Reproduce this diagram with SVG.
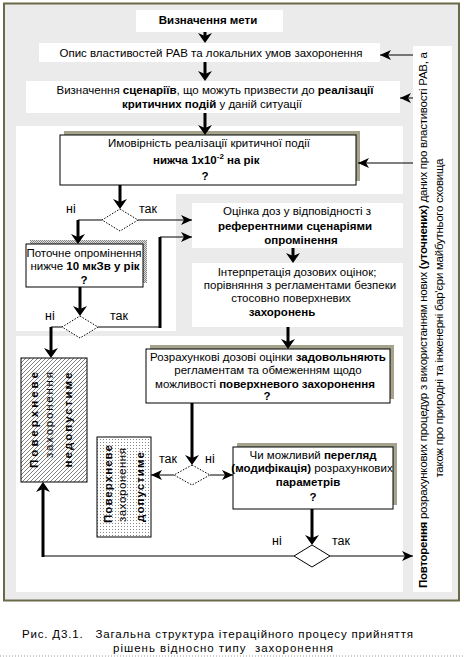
<svg xmlns="http://www.w3.org/2000/svg" width="464" height="657" viewBox="0 0 464 657">
<style>
.t{font-family:"Liberation Sans",Arial,sans-serif;font-size:11.5px;fill:#000}
.c{text-anchor:middle}
.b{font-weight:bold}
.lb{font-family:"Liberation Sans",Arial,sans-serif;font-size:12.5px;fill:#000}
.box{fill:#fff;stroke:#000;stroke-width:1}
.wh{fill:#fff}
.sh{fill:#a5a38b}
.thick{stroke:#000;stroke-width:3;fill:none}
.thin{stroke:#000;stroke-width:1;fill:none}
.dia{fill:#fff;stroke:#000;stroke-width:1;stroke-dasharray:1.5 1.5}
.dias{fill:#fff;stroke:#000;stroke-width:1}
</style>
<defs>
<marker id="ak" markerUnits="userSpaceOnUse" viewBox="0 -8 10 16" markerWidth="10" markerHeight="16" refX="3" refY="0" orient="auto"><path d="M0,-7 L10,0 L0,7 L3,0z" fill="#000"/></marker>
<marker id="as" markerUnits="userSpaceOnUse" viewBox="0 -5 11 10" markerWidth="11" markerHeight="10" refX="11" refY="0" orient="auto"><path d="M0,-5 L11,0 L0,5 L3,0z" fill="#000"/></marker>
<pattern id="hatch" width="4" height="4" patternUnits="userSpaceOnUse"><rect width="4" height="4" fill="#fff"/><path d="M-1,1 l2,-2 M0,4 l4,-4 M3,5 l2,-2" stroke="#808080" stroke-width="1"/></pattern>
<pattern id="dots" width="3" height="3" patternUnits="userSpaceOnUse"><rect width="3" height="3" fill="#fff"/><rect x="1" y="1" width="1" height="1" fill="#888"/></pattern>
<pattern id="half" width="2" height="2" patternUnits="userSpaceOnUse"><rect width="2" height="2" fill="#ddd"/><rect width="1" height="1" fill="#888"/><rect x="1" y="1" width="1" height="1" fill="#888"/></pattern>
</defs>

<g id="frame">
<rect x="4" y="3.5" width="455" height="597" fill="#ebebeb" stroke="#6a6a4a" stroke-width="2"/>
<path class="wh" d="M16,126 H403 V194 H176 V331 H16 Z"/>
<rect class="wh" x="192" y="203" width="211" height="45"/>
<rect class="wh" x="192" y="263" width="211" height="64"/>
<rect class="wh" x="16" y="336" width="387" height="256"/>
</g>

<g id="n-goal">
<rect class="wh" x="136" y="10" width="147" height="22"/>
<text class="t b c" x="208" y="24" font-size="12">Визначення мети</text>
</g>

<g id="n-describe">
<rect class="wh" x="39" y="43" width="341" height="19"/>
<text class="t c" x="211" y="57">Опис властивостей РАВ та локальних умов захоронення</text>
</g>

<g id="n-scen">
<rect class="wh" x="26" y="81" width="374" height="32"/>
<text class="t c" x="215" y="94">Визначення <tspan class="b">сценаріїв</tspan>, що можуть призвести до <tspan class="b">реалізації</tspan></text>
<text class="t c" x="212" y="108"><tspan class="b">критичних подій</tspan> у даній ситуації</text>
</g>

<g id="n-prob">
<rect class="sh" x="64" y="131" width="296" height="50"/>
<rect class="box" x="60" y="135" width="296" height="50"/>
<text class="t c" x="209" y="147">Имовірність реалізації критичної події</text>
<text class="t b" x="153" y="164">нижча 1x10<tspan font-size="8" dy="-5">-2</tspan><tspan dy="5"> на рік</tspan></text>
<text class="t b c" x="205" y="180" font-size="12">?</text>
</g>

<g id="n-dose">
<text class="t c" x="297" y="215">Оцінка доз у відповідності з</text>
<text class="t b c" x="295" y="230">референтними сценаріями</text>
<text class="t b c" x="301" y="244">опромінення</text>
</g>

<g id="n-interp">
<text class="t c" x="297" y="276">Інтерпретація дозових оцінок;</text>
<text class="t c" x="300" y="289">порівняння з регламентами безпеки</text>
<text class="t c" x="291" y="302">стосовно поверхневих</text>
<text class="t b c" x="282" y="316">захоронень</text>
</g>

<g id="n-current">
<rect x="30" y="240" width="117" height="43" fill="url(#half)"/>
<rect class="box" x="26" y="244" width="117" height="43"/>
<text class="t c" x="84" y="257">Поточне опромінення</text>
<text class="t c" x="85" y="270">нижче <tspan class="b">10 мкЗв у рік</tspan></text>
<text class="t b c" x="84" y="284" font-size="12">?</text>
</g>

<g id="n-calc">
<rect class="sh" x="150" y="345" width="244" height="54"/>
<rect class="box" x="146" y="349" width="244" height="54"/>
<text class="t c" x="268" y="361">Розрахункові дозові оцінки <tspan class="b">задовольняють</tspan></text>
<text class="t c" x="268" y="374">регламентам та обмеженням щодо</text>
<text class="t c" x="265" y="388">можливості <tspan class="b">поверхневого захоронення</tspan></text>
<text class="t b c" x="267" y="400" font-size="12">?</text>
</g>

<g id="n-review">
<rect class="sh" x="237" y="443" width="160" height="62"/>
<rect class="box" x="233" y="447" width="160" height="62"/>
<text class="t c" x="313" y="459">Чи можливий <tspan class="b">перегляд</tspan></text>
<text class="t c" x="312" y="472"><tspan class="b">(модифікація)</tspan> розрахункових</text>
<text class="t b c" x="308" y="486">параметрів</text>
<text class="t b c" x="313" y="501" font-size="12">?</text>
</g>

<g id="n-notallowed">
<rect x="21" y="358" width="66" height="124" fill="url(#hatch)" stroke="#000" stroke-width="1"/>
<text class="t b c" font-size="14" transform="translate(38,420) rotate(-90)" textLength="96" lengthAdjust="spacing">Поверхневе</text>
<text class="t c" font-size="12.5" transform="translate(53,415) rotate(-90)" textLength="86" lengthAdjust="spacing">захоронення</text>
<text class="t b c" font-size="14" transform="translate(72,420) rotate(-90)" textLength="95" lengthAdjust="spacing">недопустиме</text>
</g>

<g id="n-allowed">
<rect x="97" y="437" width="54" height="100" fill="url(#dots)" stroke="#000" stroke-width="1"/>
<text class="t b c" font-size="12.5" transform="translate(112,484) rotate(-90)" textLength="78" lengthAdjust="spacing">Поверхневе</text>
<text class="t c" font-size="11.5" transform="translate(126,485) rotate(-90)" textLength="74" lengthAdjust="spacing">захоронення</text>
<text class="t b c" font-size="12.5" transform="translate(144,487) rotate(-90)" textLength="70" lengthAdjust="spacing">допустиме</text>
</g>

<g id="n-repeat">
<rect class="wh" x="413" y="46" width="39" height="546"/>
<text class="t c" font-size="10" transform="translate(427,320) rotate(-90)" textLength="536" lengthAdjust="spacing"><tspan class="b">Повторення</tspan> розрахункових процедур з використанням нових <tspan class="b">(уточнених)</tspan> даних про властивості РАВ, а</text>
<text class="t c" font-size="10" transform="translate(443,318) rotate(-90)" textLength="319" lengthAdjust="spacing">також про природні та інженерні бар'єри майбутнього сховища</text>
</g>

<g id="decisions">
<path class="dia" d="M120,209 L138,220 L120,231 L102,220 Z"/>
<path class="dia" d="M80,316 L98,327 L80,338 L62,327 Z"/>
<path class="dia" d="M192,465 L210,475 L192,485 L174,475 Z"/>
<path class="dias" d="M312,545 L330,556 L312,567 L294,556 Z"/>
</g>

<g id="connectors">
<path class="thick" d="M205,32 V36" marker-end="url(#ak)"/>
<path class="thick" d="M205,62 V74" marker-end="url(#ak)"/>
<path class="thick" d="M205,113 V128" marker-end="url(#ak)"/>
<path class="thick" d="M120,185 V202" marker-end="url(#ak)"/>
<path class="thin" d="M102,220 H78"/>
<path class="thick" d="M78,220 V237" marker-end="url(#ak)"/>
<path class="thin" d="M138,220 H192" marker-end="url(#as)"/>
<path class="thick" d="M80,287 V309" marker-end="url(#ak)"/>
<path class="thin" d="M62,327 H51"/>
<path class="thick" d="M51,327 V351" marker-end="url(#ak)"/>
<path class="thin" d="M98,327 H160"/>
<path class="thick" d="M160,328 V237"/>
<path class="thin" d="M160,237 H192" marker-end="url(#as)"/>
<path class="thick" d="M293,248 V256" stroke-width="2.5" marker-end="url(#ak)"/>
<path class="thick" d="M288,327 V342" stroke-width="2.5" marker-end="url(#ak)"/>
<path class="thick" d="M192,403 V458" marker-end="url(#ak)"/>
<path class="thin" d="M174,475 H151" marker-end="url(#as)"/>
<path class="thin" d="M210,475 H233" marker-end="url(#as)"/>
<path class="thick" d="M312,509 V538" marker-end="url(#ak)"/>
<path class="thin" d="M294,556 H43"/>
<path class="thick" d="M43,557 V489" marker-end="url(#ak)"/>
<path class="thin" d="M330,556 H413" marker-end="url(#as)"/>
<path class="thin" d="M413,55 H380" marker-end="url(#as)"/>
<path class="thin" d="M413,98 H400" marker-end="url(#as)"/>
<path class="thin" d="M413,163 H358" marker-end="url(#as)"/>
</g>

<g id="labels">
<text class="lb" x="66" y="213">ні</text>
<text class="lb" x="139" y="213">так</text>
<text class="lb" x="45" y="320">ні</text>
<text class="lb" x="110" y="320">так</text>
<text class="lb" x="159" y="463">так</text>
<text class="lb" x="205" y="463">ні</text>
<text class="lb" x="272" y="545">ні</text>
<text class="lb" x="332" y="545">так</text>
</g>

<g id="caption">
<text class="t" font-size="12.5" x="22" y="638" textLength="391" lengthAdjust="spacing" xml:space="preserve">Рис. Д3.1.   Загальна структура ітераційного процесу прийняття</text>
<text class="t" font-size="12.5" x="113" y="652" textLength="220" lengthAdjust="spacing" xml:space="preserve">рішень відносно типу  захоронення</text>
<line x1="0" y1="656" x2="464" y2="656" stroke="#999" stroke-width="1" stroke-dasharray="1 2"/>
</g>
</svg>
